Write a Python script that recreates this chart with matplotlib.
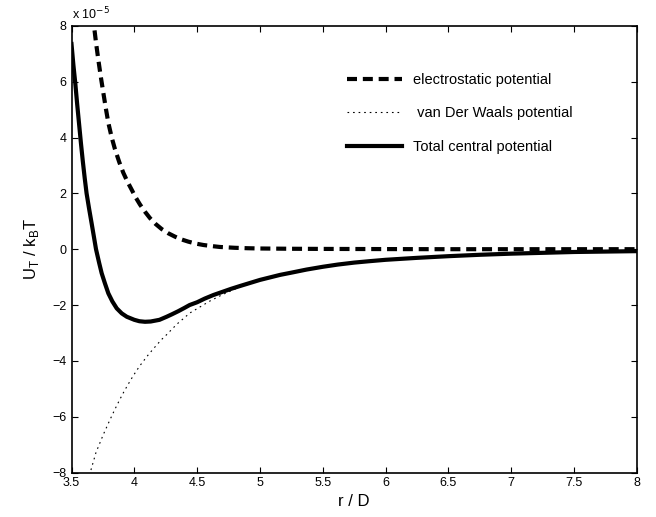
import matplotlib
matplotlib.use('Agg')
import matplotlib.pyplot as plt

# values, y in units of 1e-5
r_es = [3.5, 3.6, 3.65, 3.679, 3.695, 3.713, 3.733, 3.753, 3.773, 3.793,
        3.82, 3.846, 3.88, 3.912, 3.945, 3.979, 4.01, 4.045, 4.085, 4.125,
        4.17, 4.218, 4.27, 4.323, 4.375, 4.43, 4.49, 4.55, 4.62, 4.68,
        4.8, 4.9, 5.0, 5.25, 5.5, 6.0, 6.5, 8.0]
u_es = [17.0, 11.0, 9.0, 8.0, 7.4, 6.8, 6.18, 5.61, 5.05, 4.53,
        4.0, 3.58, 3.12, 2.74, 2.42, 2.13, 1.86, 1.6, 1.34, 1.11,
        0.9, 0.72, 0.57, 0.45, 0.35, 0.27, 0.2, 0.15, 0.11, 0.08,
        0.05, 0.035, 0.025, 0.015, 0.01, 0.004, 0.0, 0.0]

r_vdw = [3.5, 3.55, 3.6, 3.63, 3.661, 3.695, 3.725, 3.753, 3.78, 3.806,
         3.846, 3.886, 3.92, 3.952, 3.985, 4.019, 4.05, 4.077, 4.108, 4.138,
         4.18, 4.218, 4.262, 4.3, 4.35, 4.4, 4.44, 4.5, 4.6, 4.7,
         4.8, 4.9, 5.0, 5.16, 5.25, 5.37, 5.5, 5.62, 5.75, 5.87,
         6.0, 6.25, 6.5, 6.75, 7.0, 7.25, 7.5, 7.75, 8.0]
u_vdw = [-10.4, -9.5, -8.75, -8.3, -7.81, -7.28, -6.95, -6.64, -6.37, -6.11,
         -5.73, -5.37, -5.08, -4.83, -4.58, -4.34, -4.14, -3.98, -3.80, -3.64,
         -3.42, -3.23, -3.04, -2.86, -2.64, -2.45, -2.29, -2.13, -1.86, -1.63,
         -1.43, -1.25, -1.11, -0.93, -0.84, -0.73, -0.63, -0.55, -0.48, -0.43,
         -0.38, -0.31, -0.25, -0.20, -0.16, -0.13, -0.10, -0.085, -0.07]

r_tot = [3.5, 3.515, 3.53, 3.545, 3.56, 3.575, 3.59, 3.605, 3.62, 3.64,
         3.66, 3.68, 3.695, 3.72, 3.74, 3.765, 3.793, 3.825, 3.86, 3.9,
         3.94, 4.0, 4.04, 4.085, 4.13, 4.2, 4.257, 4.3, 4.35, 4.4,
         4.44, 4.5, 4.56, 4.63, 4.7, 4.77, 4.84, 4.92, 5.0, 5.08,
         5.16, 5.25, 5.37, 5.5, 5.62, 5.75, 5.87, 6.0, 6.25, 6.5,
         6.75, 7.0, 7.25, 7.5, 7.75, 8.0]
u_tot = [7.35, 6.6, 5.95, 5.2, 4.5, 3.8, 3.15, 2.55, 2.0, 1.45,
         0.93, 0.4, 0.0, -0.49, -0.86, -1.21, -1.58, -1.87, -2.12, -2.30,
         -2.42, -2.53, -2.58, -2.60, -2.59, -2.53, -2.42, -2.33, -2.22, -2.10,
         -2.0, -1.9, -1.77, -1.64, -1.53, -1.42, -1.32, -1.21, -1.10, -1.01,
         -0.92, -0.84, -0.73, -0.63, -0.55, -0.48, -0.43, -0.38, -0.31, -0.25,
         -0.20, -0.16, -0.13, -0.10, -0.085, -0.07]

plt.rcParams['font.family'] = ['Liberation Sans', 'DejaVu Sans']

fig = plt.figure(figsize=(6.56, 5.17), dpi=100)
ax = fig.add_axes([0.109, 0.086, 0.862, 0.864])

ax.plot(r_es, u_es, color='k', lw=3, linestyle=(0, (2.4, 1.4)),
        label='electrostatic potential')
ax.plot(r_vdw, u_vdw, color='k', lw=0.8, linestyle=(0, (1.5, 3.5)),
        label=' van Der Waals potential')
ax.plot(r_tot, u_tot, color='k', lw=3, label='Total central potential')

ax.set_xlim(3.5, 8)
ax.set_ylim(-8, 8)
ax.set_xticks([3.5, 4, 4.5, 5, 5.5, 6, 6.5, 7, 7.5, 8])
ax.set_xticklabels(['3.5', '4', '4.5', '5', '5.5', '6', '6.5', '7', '7.5', '8'])
ax.set_yticks([-8, -6, -4, -2, 0, 2, 4, 6, 8])
ax.tick_params(direction='in', top=True, right=True, length=4, width=0.8,
               labelsize=9)
for s in ax.spines.values():
    s.set_linewidth(1.2)

ax.text(0.0, 1.008, r'x 10$^{-5}$', transform=ax.transAxes, fontsize=9,
        ha='left', va='bottom')
ax.set_xlabel('r / D', fontsize=12, labelpad=3)
ax.set_ylabel(r'U$_\mathregular{T}$ / k$_\mathregular{B}$T', fontsize=12,
              labelpad=8)

ax.legend(loc='upper left', bbox_to_anchor=(0.487, 0.895), frameon=False,
          fontsize=10.5, handlelength=3.8, handletextpad=0.7, labelspacing=1.35,
          borderpad=0, borderaxespad=0)

fig.savefig('out.png', dpi=100)
